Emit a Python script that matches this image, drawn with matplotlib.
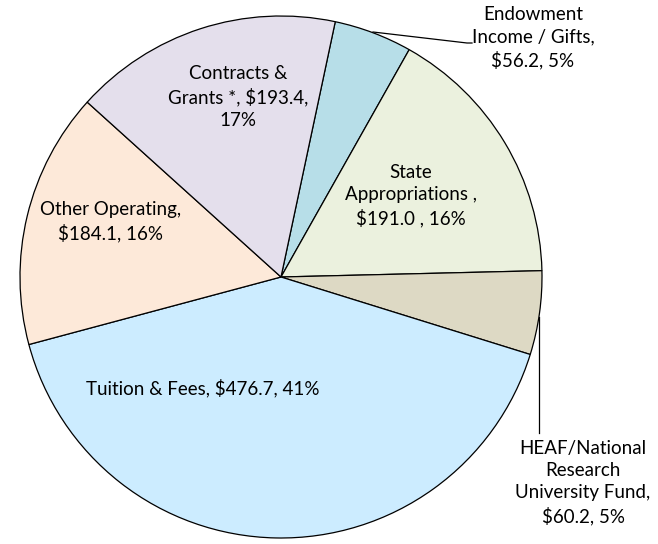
import matplotlib.pyplot as plt

# slices, clockwise from the top
labels = ["Endowment\nIncome / Gifts,\n$56.2, 5%",
          "State\nAppropriations ,\n$191.0 , 16%",
          "HEAF/National\nResearch\nUniversity Fund,\n$60.2, 5%",
          "Tuition & Fees, $476.7, 41%",
          "Other Operating,\n$184.1, 16%",
          "Contracts &\nGrants *, $193.4,\n17%"]
values = [56.2, 191.0, 60.2, 476.7, 184.1, 193.4]
colors = ["#B7DEE8", "#EBF1DE", "#DDD9C4", "#CCECFF", "#FDE9D9", "#E4DFEC"]

# label positions in pixels (from the top left)
label_pos = [(533, 38), (411, 196), (583, 483), (203, 388), (111, 222), (238, 97)]

W, H = 658, 544
fig = plt.figure(figsize=(W / 100, H / 100), dpi=100)
ax = fig.add_axes([0, 0, 1, 1])

ax.pie(values, colors=colors, startangle=78, counterclock=False,
       center=(281, H - 277), radius=261, frame=True,
       wedgeprops=dict(edgecolor="#000000", linewidth=0.9))
ax.set_xlim(0, W)
ax.set_ylim(0, H)
ax.axis("off")

for txt, (px, py) in zip(labels, label_pos):
    ax.text(px, H - py, txt, ha="center", va="center", fontsize=13.5,
            family="Lato", color="#000000", linespacing=1.36)

# leader lines
ax.plot([373, 467, 472], [H - 32, H - 43, H - 43], color="#000000", lw=0.9)
ax.plot([539, 539], [H - 317, H - 433], color="#000000", lw=0.9)

fig.savefig("out.png", dpi=100)
